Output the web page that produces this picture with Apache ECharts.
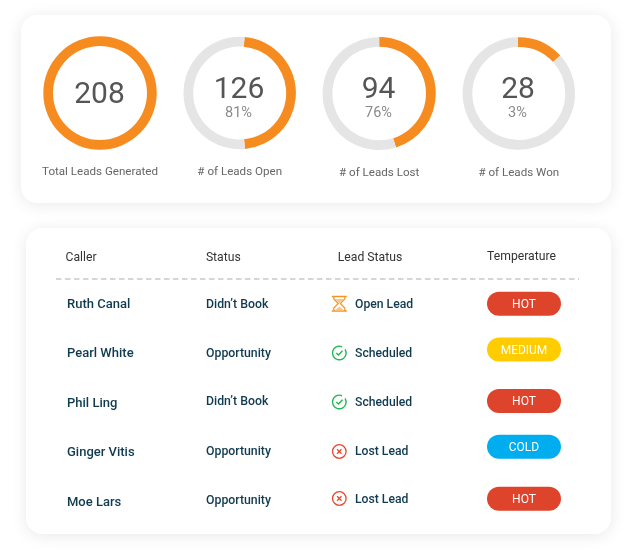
<!DOCTYPE html>
<html><head><meta charset="utf-8">
<style>html,body{margin:0;padding:0;background:#fff}#c{width:632px;height:558px}</style>
<script src="https://cdn.jsdelivr.net/npm/echarts@6/dist/echarts.min.js"></script>
</head><body><div id="c"></div>
<script>
const total = 208;
const kpiNumbers = ['208','126','94','28'];
const kpiPercents = ['', '81%','76%','3%'];
const kpiLabels = ['Total Leads Generated','# of Leads Open','# of Leads Lost','# of Leads Won'];
const arcValues = [208, 98, 94, 28];
const arcStarts = [90, 85, 90, 91];
const headers = ['Caller','Status','Lead Status','Temperature'];
const callers = ['Ruth Canal','Pearl White','Phil Ling','Ginger Vitis','Moe Lars'];
const statuses = ["Didn\u2019t Book",'Opportunity',"Didn\u2019t Book",'Opportunity','Opportunity'];
const leadStatuses = ['Open Lead','Scheduled','Scheduled','Lost Lead','Lost Lead'];
const temps = ['HOT','MEDIUM','HOT','COLD','HOT'];

const font = 'Roboto';
const tempColor = {HOT:'#DE432B', MEDIUM:'#FFCC00', COLD:'#00AEEF'};
const centers = [[100,93],[239.7,93],[379.2,93.5],[518.8,93.5]];
const radii = [[47,56.7],[46.5,56.2],[46.8,56.6],[46.5,56.2]];
const kpiLabelY = [172,172,173,173];
const numberY = [95,90,90,90];
const numberX = [99.5,239,378.5,518];
const pctX = [0,238.5,378.5,517.5];
const nameY = [304.5,353.5,403.8,452.8,502.8];
const statusY = [304.5,353.5,402.3,451.8,500.5];
const leadY = [304.5,353.5,402.6,451.6,500.4];
const pillY = [303.8,349.6,400.9,446.8,498.7];
const iconY = [303.5,353,402,451.5,498.5];

const g = [];
function text(x,y,t,size,color,opt){
  g.push({type:'text',x,y,z:100,style:Object.assign({text:t,fontFamily:font,fontSize:size,fill:color,align:'center',verticalAlign:'middle'},opt||{})});
}
function card(x,y,w,h,r){
  g.push({type:'rect',z:0,shape:{x,y,width:w,height:h,r},style:{fill:'#fff',shadowBlur:16,shadowColor:'rgba(0,0,0,0.09)',shadowOffsetY:2}});
}
card(21,15,590,188,16);
card(26,228,585,306,16);

kpiNumbers.forEach((n,i)=>{
  text(numberX[i],numberY[i],n,30,'#555555');
  if(kpiPercents[i]) text(pctX[i],113,kpiPercents[i],14.5,'#8a8a8a');
  text(centers[i][0],kpiLabelY[i],kpiLabels[i],11.6,'#666666');
});
const headX=[81,223.3,370,521.5], headY=[257.5,257.5,257.5,257];
headers.forEach((h,i)=>text(headX[i],headY[i],h,12.2,'#333333'));
g.push({type:'line',z:100,shape:{x1:56,y1:279,x2:579,y2:279},style:{stroke:'#c9c9c9',lineWidth:1.5,lineDash:[5.5,3.5]}});

function hourglass(cx,cy){
  const c='#F7941E', z=100;
  const s={stroke:c,lineWidth:1.2,fill:'none'};
  g.push({type:'line',z,shape:{x1:cx-7.5,y1:cy-7,x2:cx+7.5,y2:cy-7},style:{stroke:c,lineWidth:1.5}});
  g.push({type:'line',z,shape:{x1:cx-7.5,y1:cy+7.5,x2:cx+7.5,y2:cy+7.5},style:{stroke:c,lineWidth:1.5}});
  g.push({type:'polyline',z,shape:{points:[[cx-5.5,cy-7],[cx-5.5,cy-4.5],[cx-1,cy],[cx-5.5,cy+4.5],[cx-5.5,cy+7.5]]},style:s});
  g.push({type:'polyline',z,shape:{points:[[cx+5.5,cy-7],[cx+5.5,cy-4.5],[cx+1,cy],[cx+5.5,cy+4.5],[cx+5.5,cy+7.5]]},style:s});
  g.push({type:'polygon',z,shape:{points:[[cx-4.5,cy-4.5],[cx+4.5,cy-4.5],[cx,cy-0.5]]},style:{fill:'#FBC58A'}});
  g.push({type:'polygon',z,shape:{points:[[cx-4.5,cy+7],[cx+4.5,cy+7],[cx,cy+3]]},style:{fill:'#FBC58A'}});
}
function check(cx,cy){
  const c='#1DB954', z=100;
  g.push({type:'arc',z,shape:{cx,cy,r:6.8,startAngle:-0.55,endAngle:-1.15,clockwise:true},style:{stroke:c,lineWidth:1.4,fill:'none'}});
  g.push({type:'polyline',z,shape:{points:[[cx-3,cy],[cx-0.8,cy+2],[cx+3.2,cy-2.2]]},style:{stroke:c,lineWidth:1.4,fill:'none'}});
}
function cross(cx,cy){
  const c='#E2492F', z=100, d=2.2;
  g.push({type:'circle',z,shape:{cx,cy,r:6.8},style:{stroke:c,lineWidth:1.3,fill:'none'}});
  g.push({type:'line',z,shape:{x1:cx-d,y1:cy-d,x2:cx+d,y2:cy+d},style:{stroke:c,lineWidth:1.3}});
  g.push({type:'line',z,shape:{x1:cx-d,y1:cy+d,x2:cx+d,y2:cy-d},style:{stroke:c,lineWidth:1.3}});
}
const navy='#0F3A50';
callers.forEach((n,i)=>{
  text(67,nameY[i],n,13,navy,{align:'left',fontWeight:500});
  text(206,statusY[i],statuses[i],12.3,navy,{align:'left',fontWeight:500});
  text(355,leadY[i],leadStatuses[i],12.2,navy,{align:'left',fontWeight:500});
  const ix=339.3;
  if(leadStatuses[i]==='Open Lead') hourglass(ix,iconY[i]);
  else if(leadStatuses[i]==='Scheduled') check(ix,iconY[i]);
  else cross(ix,iconY[i]);
  const py = pillY[i];
  g.push({type:'rect',z:90,shape:{x:487,y:py-12,width:74,height:24,r:12},style:{fill:tempColor[temps[i]]}});
  text(524,py+1,temps[i],12,'#ffffff',{fontWeight:400,letterSpacing:0.3});
});

const series = arcValues.map((v,i)=>({
  type:'pie',silent:true,animation:false,clockwise:true,
  center:centers[i],radius:radii[i],startAngle:arcStarts[i],
  label:{show:false},labelLine:{show:false},z:10,
  data:[
    {value:v,itemStyle:{color:'#F68B1F'}},
    {value:total-v,itemStyle:{color:'#E5E5E5'}}
  ]
}));

const chart = echarts.init(document.getElementById('c'),null,{renderer:'canvas'});
chart.setOption({animation:false,backgroundColor:'#ffffff',graphic:{elements:g},series});
</script></body></html>
